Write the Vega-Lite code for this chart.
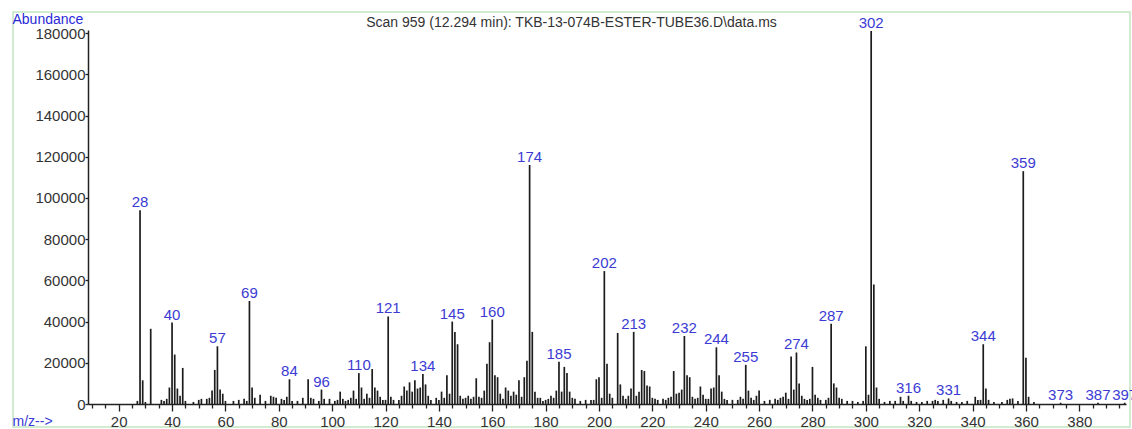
{
  "$schema": "https://vega.github.io/schema/vega-lite/v6.json",
  "width": 1117,
  "height": 415,
  "autosize": {"type": "none"},
  "padding": {"left": 13, "top": 12, "right": 2, "bottom": 2},
  "background": "white",
  "config": {
    "view": {"stroke": "#c4e6c4", "strokeWidth": 1.5},
    "font": "Liberation Sans"
  },
  "title": {
    "text": "Scan 959 (12.294 min): TKB-13-074B-ESTER-TUBE36.D\\data.ms",
    "fontSize": 14,
    "fontWeight": "normal",
    "color": "#333333",
    "font": "Liberation Sans",
    "anchor": "middle",
    "baseline": "alphabetic",
    "offset": -14,
    "dy": 15
  },
  "resolve": {"axis": {"x": "independent"}},
  "data": {
    "values": [
      {"mz": 27, "ab": 1500}, {"mz": 28, "ab": 94000, "lab": "28"}, {"mz": 29, "ab": 11500}, {"mz": 30, "ab": 1000},
      {"mz": 32, "ab": 36500}, {"mz": 36, "ab": 2000}, {"mz": 37, "ab": 1500}, {"mz": 38, "ab": 2500},
      {"mz": 39, "ab": 8000}, {"mz": 40, "ab": 39500, "lab": "40"}, {"mz": 41, "ab": 24000}, {"mz": 42, "ab": 7500},
      {"mz": 43, "ab": 4000}, {"mz": 44, "ab": 17500}, {"mz": 45, "ab": 1500}, {"mz": 48, "ab": 1000},
      {"mz": 50, "ab": 2000}, {"mz": 51, "ab": 2500}, {"mz": 53, "ab": 2500}, {"mz": 54, "ab": 3000},
      {"mz": 55, "ab": 6500}, {"mz": 56, "ab": 16500}, {"mz": 57, "ab": 28000, "lab": "57"}, {"mz": 58, "ab": 7000},
      {"mz": 59, "ab": 5000}, {"mz": 60, "ab": 1500}, {"mz": 63, "ab": 1500}, {"mz": 65, "ab": 2000},
      {"mz": 67, "ab": 2500}, {"mz": 68, "ab": 1500}, {"mz": 69, "ab": 50000, "lab": "69"}, {"mz": 70, "ab": 8000},
      {"mz": 71, "ab": 3000}, {"mz": 73, "ab": 4500}, {"mz": 75, "ab": 1500}, {"mz": 77, "ab": 4000},
      {"mz": 78, "ab": 3500}, {"mz": 79, "ab": 3000}, {"mz": 81, "ab": 2500}, {"mz": 82, "ab": 2000},
      {"mz": 83, "ab": 3500}, {"mz": 84, "ab": 12000, "lab": "84"}, {"mz": 85, "ab": 1500}, {"mz": 87, "ab": 1500},
      {"mz": 89, "ab": 3000}, {"mz": 91, "ab": 12000}, {"mz": 92, "ab": 3000}, {"mz": 93, "ab": 2500},
      {"mz": 95, "ab": 1500}, {"mz": 96, "ab": 7000, "lab": "96"}, {"mz": 97, "ab": 2500}, {"mz": 99, "ab": 2500},
      {"mz": 101, "ab": 1500}, {"mz": 102, "ab": 2000}, {"mz": 103, "ab": 6000}, {"mz": 104, "ab": 2500},
      {"mz": 105, "ab": 1500}, {"mz": 106, "ab": 2000}, {"mz": 107, "ab": 3000}, {"mz": 108, "ab": 6500},
      {"mz": 109, "ab": 2500}, {"mz": 110, "ab": 15000, "lab": "110"}, {"mz": 111, "ab": 8000}, {"mz": 112, "ab": 2500},
      {"mz": 113, "ab": 5000}, {"mz": 114, "ab": 3000}, {"mz": 115, "ab": 17000}, {"mz": 116, "ab": 8000},
      {"mz": 117, "ab": 6500}, {"mz": 118, "ab": 3500}, {"mz": 119, "ab": 2000}, {"mz": 120, "ab": 2000},
      {"mz": 121, "ab": 42500, "lab": "121"}, {"mz": 122, "ab": 3500}, {"mz": 123, "ab": 2000}, {"mz": 125, "ab": 2000},
      {"mz": 126, "ab": 4000}, {"mz": 127, "ab": 8500}, {"mz": 128, "ab": 6500}, {"mz": 129, "ab": 10500},
      {"mz": 130, "ab": 6000}, {"mz": 131, "ab": 11500}, {"mz": 132, "ab": 7500}, {"mz": 133, "ab": 8000},
      {"mz": 134, "ab": 14500, "lab": "134"}, {"mz": 135, "ab": 9500}, {"mz": 136, "ab": 4000}, {"mz": 137, "ab": 2000},
      {"mz": 139, "ab": 3000}, {"mz": 140, "ab": 2000}, {"mz": 141, "ab": 6000}, {"mz": 142, "ab": 3000},
      {"mz": 143, "ab": 14000}, {"mz": 144, "ab": 5000}, {"mz": 145, "ab": 40000, "lab": "145"}, {"mz": 146, "ab": 35000},
      {"mz": 147, "ab": 29000}, {"mz": 148, "ab": 4000}, {"mz": 149, "ab": 2500}, {"mz": 150, "ab": 3000},
      {"mz": 151, "ab": 4000}, {"mz": 152, "ab": 2500}, {"mz": 153, "ab": 3500}, {"mz": 154, "ab": 12500},
      {"mz": 155, "ab": 3500}, {"mz": 156, "ab": 3000}, {"mz": 157, "ab": 6500}, {"mz": 158, "ab": 19500},
      {"mz": 159, "ab": 30000}, {"mz": 160, "ab": 41000, "lab": "160"}, {"mz": 161, "ab": 14000}, {"mz": 162, "ab": 13000},
      {"mz": 163, "ab": 5000}, {"mz": 164, "ab": 2500}, {"mz": 165, "ab": 8000}, {"mz": 166, "ab": 6500},
      {"mz": 167, "ab": 4000}, {"mz": 168, "ab": 6000}, {"mz": 169, "ab": 4500}, {"mz": 170, "ab": 11500},
      {"mz": 171, "ab": 3500}, {"mz": 172, "ab": 13000}, {"mz": 173, "ab": 21000}, {"mz": 174, "ab": 116000, "lab": "174"},
      {"mz": 175, "ab": 35000}, {"mz": 176, "ab": 6000}, {"mz": 177, "ab": 3000}, {"mz": 178, "ab": 3000},
      {"mz": 179, "ab": 1500}, {"mz": 180, "ab": 2000}, {"mz": 181, "ab": 2500}, {"mz": 182, "ab": 4000},
      {"mz": 183, "ab": 3000}, {"mz": 184, "ab": 6500}, {"mz": 185, "ab": 20500, "lab": "185"}, {"mz": 186, "ab": 6000},
      {"mz": 187, "ab": 18000}, {"mz": 188, "ab": 15000}, {"mz": 189, "ab": 6000}, {"mz": 190, "ab": 3000},
      {"mz": 191, "ab": 2500}, {"mz": 193, "ab": 1500}, {"mz": 195, "ab": 2000}, {"mz": 197, "ab": 2000},
      {"mz": 198, "ab": 2000}, {"mz": 199, "ab": 12000}, {"mz": 200, "ab": 13000}, {"mz": 201, "ab": 3000},
      {"mz": 202, "ab": 64500, "lab": "202"}, {"mz": 203, "ab": 19500}, {"mz": 204, "ab": 5000}, {"mz": 205, "ab": 3000},
      {"mz": 207, "ab": 34500}, {"mz": 208, "ab": 9500}, {"mz": 209, "ab": 4000}, {"mz": 210, "ab": 2500},
      {"mz": 211, "ab": 4000}, {"mz": 212, "ab": 7500}, {"mz": 213, "ab": 35000, "lab": "213"}, {"mz": 214, "ab": 4000},
      {"mz": 215, "ab": 6000}, {"mz": 216, "ab": 16500}, {"mz": 217, "ab": 16000}, {"mz": 218, "ab": 9000},
      {"mz": 219, "ab": 8500}, {"mz": 220, "ab": 3000}, {"mz": 221, "ab": 2500}, {"mz": 222, "ab": 2000},
      {"mz": 224, "ab": 2500}, {"mz": 225, "ab": 2000}, {"mz": 226, "ab": 3000}, {"mz": 227, "ab": 3500},
      {"mz": 228, "ab": 16000}, {"mz": 229, "ab": 5000}, {"mz": 230, "ab": 5500}, {"mz": 231, "ab": 7000},
      {"mz": 232, "ab": 33000, "lab": "232"}, {"mz": 233, "ab": 14000}, {"mz": 234, "ab": 13000}, {"mz": 235, "ab": 3500},
      {"mz": 236, "ab": 2500}, {"mz": 237, "ab": 3000}, {"mz": 238, "ab": 8500}, {"mz": 239, "ab": 4500},
      {"mz": 240, "ab": 2500}, {"mz": 241, "ab": 2500}, {"mz": 242, "ab": 7500}, {"mz": 243, "ab": 8000},
      {"mz": 244, "ab": 27500, "lab": "244"}, {"mz": 245, "ab": 14000}, {"mz": 246, "ab": 6000}, {"mz": 247, "ab": 2500},
      {"mz": 248, "ab": 2000}, {"mz": 250, "ab": 2000}, {"mz": 252, "ab": 2000}, {"mz": 253, "ab": 3500},
      {"mz": 254, "ab": 2500}, {"mz": 255, "ab": 19000, "lab": "255"}, {"mz": 256, "ab": 6500}, {"mz": 257, "ab": 3000},
      {"mz": 258, "ab": 2000}, {"mz": 259, "ab": 4000}, {"mz": 260, "ab": 6500}, {"mz": 262, "ab": 1500},
      {"mz": 264, "ab": 2000}, {"mz": 266, "ab": 2500}, {"mz": 267, "ab": 2000}, {"mz": 268, "ab": 3000},
      {"mz": 269, "ab": 3500}, {"mz": 270, "ab": 5500}, {"mz": 271, "ab": 2500}, {"mz": 272, "ab": 23000},
      {"mz": 273, "ab": 7000}, {"mz": 274, "ab": 25000, "lab": "274"}, {"mz": 275, "ab": 10000}, {"mz": 276, "ab": 4000},
      {"mz": 277, "ab": 2500}, {"mz": 278, "ab": 2000}, {"mz": 279, "ab": 2500}, {"mz": 280, "ab": 18000},
      {"mz": 281, "ab": 4500}, {"mz": 282, "ab": 3000}, {"mz": 283, "ab": 2000}, {"mz": 285, "ab": 2000},
      {"mz": 286, "ab": 3000}, {"mz": 287, "ab": 39000, "lab": "287"}, {"mz": 288, "ab": 10000}, {"mz": 289, "ab": 8000},
      {"mz": 290, "ab": 3000}, {"mz": 291, "ab": 2500}, {"mz": 293, "ab": 1500}, {"mz": 295, "ab": 1500},
      {"mz": 297, "ab": 1000}, {"mz": 299, "ab": 1500}, {"mz": 300, "ab": 28000}, {"mz": 301, "ab": 4500},
      {"mz": 302, "ab": 181000, "lab": "302"}, {"mz": 303, "ab": 58000}, {"mz": 304, "ab": 8000}, {"mz": 305, "ab": 2500},
      {"mz": 307, "ab": 1000}, {"mz": 309, "ab": 1500}, {"mz": 311, "ab": 1500}, {"mz": 313, "ab": 3500},
      {"mz": 314, "ab": 1500}, {"mz": 316, "ab": 4000, "lab": "316"}, {"mz": 317, "ab": 1500}, {"mz": 319, "ab": 1000},
      {"mz": 321, "ab": 1000}, {"mz": 323, "ab": 1500}, {"mz": 325, "ab": 1500}, {"mz": 326, "ab": 2000},
      {"mz": 327, "ab": 1500}, {"mz": 329, "ab": 2000}, {"mz": 331, "ab": 2700, "lab": "331"}, {"mz": 332, "ab": 1500},
      {"mz": 334, "ab": 1000}, {"mz": 336, "ab": 1000}, {"mz": 338, "ab": 1500}, {"mz": 341, "ab": 3500},
      {"mz": 342, "ab": 2000}, {"mz": 343, "ab": 2000}, {"mz": 344, "ab": 29000, "lab": "344"}, {"mz": 345, "ab": 7500},
      {"mz": 346, "ab": 2000}, {"mz": 348, "ab": 1000}, {"mz": 351, "ab": 1000}, {"mz": 353, "ab": 2000},
      {"mz": 354, "ab": 2500}, {"mz": 355, "ab": 2700}, {"mz": 357, "ab": 1500}, {"mz": 359, "ab": 113000, "lab": "359"},
      {"mz": 360, "ab": 22500}, {"mz": 361, "ab": 3500}, {"mz": 363, "ab": 1000}, {"mz": 373, "ab": 600, "lab": "373"},
      {"mz": 387, "ab": 600, "lab": "387"}, {"mz": 397, "ab": 600, "lab": "397"}
    ]
  },
  "layer": [
    {
      "mark": {"type": "rule", "color": "#1c1c1c", "strokeWidth": 1.7},
      "encoding": {
        "x": {
          "field": "mz",
          "type": "quantitative",
          "scale": {"domain": [8.5, 397.5], "range": [75, 1113], "nice": false, "zero": false},
          "axis": {
            "orient": "bottom",
            "offset": -23,
            "values": [20,40,60,80,100,120,140,160,180,200,220,240,260,280,300,320,340,360,380],
            "format": "d",
            "tickSize": 7,
            "tickColor": "#222222",
            "tickWidth": 1.3,
            "domainColor": "#222222",
            "domainWidth": 1.5,
            "labelFontSize": 15,
            "labelColor": "#333333",
            "labelFont": "Liberation Sans",
            "labelPadding": 3,
            "labelFlush": false,
            "labelOverlap": false,
            "grid": false,
            "title": "m/z-->",
            "titleColor": "#3a3ad8",
            "titleFont": "Liberation Sans",
            "titleFontSize": 14,
            "titleFontWeight": "normal",
            "titleAlign": "left",
            "titleBaseline": "middle",
            "titleX": -1,
            "titleY": 17,
            "titleAngle": 0
          }
        },
        "y": {
          "field": "ab",
          "type": "quantitative",
          "scale": {"domain": [0, 181500], "range": [392, 18], "nice": false},
          "axis": {
            "orient": "left",
            "offset": -75,
            "values": [0,20000,40000,60000,80000,100000,120000,140000,160000,180000],
            "format": "d",
            "tickSize": 3,
            "tickColor": "#222222",
            "tickWidth": 1.3,
            "domainColor": "#222222",
            "domainWidth": 1.5,
            "labelFontSize": 15,
            "labelColor": "#333333",
            "labelFont": "Liberation Sans",
            "labelPadding": 0,
            "labelFlush": false,
            "grid": false,
            "title": "Abundance",
            "titleColor": "#2a2ad8",
            "titleFont": "Liberation Sans",
            "titleFontSize": 14,
            "titleFontWeight": "normal",
            "titleAngle": 0,
            "titleAlign": "left",
            "titleBaseline": "middle",
            "titleX": -76,
            "titleY": 7
          }
        },
        "y2": {"datum": 0}
      }
    },
    {
      "transform": [{"filter": "isValid(datum.lab)"}],
      "mark": {"type": "text", "color": "#3b3bd4", "fontSize": 15, "font": "Liberation Sans", "baseline": "alphabetic", "dy": -3},
      "encoding": {
        "x": {
          "field": "mz",
          "type": "quantitative",
          "axis": {
            "orient": "bottom",
            "offset": -23,
            "values": [10,15,25,30,35,45,50,55,65,70,75,85,90,95,105,110,115,125,130,135,145,150,155,165,170,175,185,190,195,205,210,215,225,230,235,245,250,255,265,270,275,285,290,295,305,310,315,325,330,335,345,350,355,365,370,375,385,390,395],
            "tickSize": 4,
            "tickColor": "#222222",
            "tickWidth": 1.3,
            "labels": false,
            "domain": false,
            "grid": false,
            "title": null
          }
        },
        "y": {"field": "ab", "type": "quantitative"},
        "text": {"field": "lab"}
      }
    }
  ]
}
